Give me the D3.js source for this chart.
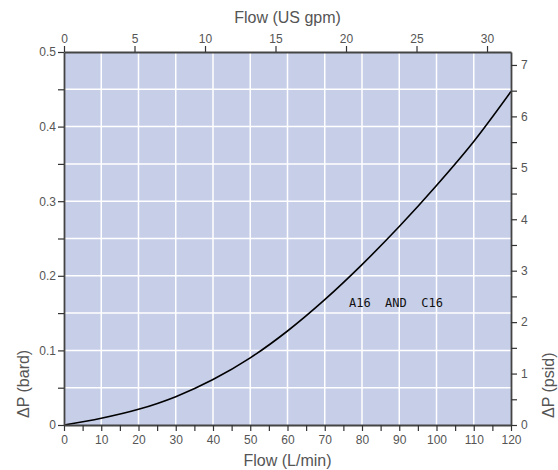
<!DOCTYPE html>
<html>
<head>
<meta charset="utf-8">
<script src="https://cdn.jsdelivr.net/npm/d3@7"></script>
<style>
  body { margin: 0; background: #fff; }
  svg text { font-family: "Liberation Sans", Arial, sans-serif; }
</style>
</head>
<body>
<script>
// curve: pressure drop (bard) vs flow (L/min)
var flowLpm = [0, 10, 20, 30, 40, 50, 60, 70, 80, 90, 100, 110, 120];
var dpBar = [0, 0.009, 0.021, 0.038, 0.061, 0.090, 0.126, 0.168, 0.215, 0.266, 0.321, 0.380, 0.447];
var seriesLabel = "A16  AND  C16";

var bottomTicks = d3.range(0, 121, 5);
var bottomLabels = [0, 10, 20, 30, 40, 50, 60, 70, 80, 90, 100, 110, 120];
var topTicks = [0, 5, 10, 15, 20, 25, 30];
var leftTicks = [0, 0.05, 0.1, 0.15, 0.2, 0.25, 0.3, 0.35, 0.4, 0.45, 0.5];
var leftLabels = ["0", "0.1", "0.2", "0.3", "0.4", "0.5"];
var rightTicks = d3.range(0, 7.01, 0.5);
var rightLabels = [0, 1, 2, 3, 4, 5, 6, 7];

var width = 558, height = 470;
var margin = {top: 52, right: 47, bottom: 45, left: 64};
var LPM_PER_GPM = 3.78541, PSI_PER_BAR = 14.5038;

var svg = d3.select("body").append("svg")
    .attr("width", width).attr("height", height);

var x = d3.scaleLinear().domain([0, 120]).range([margin.left, width - margin.right]);
var y = d3.scaleLinear().domain([0, 0.5]).range([height - margin.bottom, margin.top]);
var xg = d3.scaleLinear().domain([0, 120 / LPM_PER_GPM]).range(x.range());
var yp = d3.scaleLinear().domain([0, 0.5 * PSI_PER_BAR]).range(y.range());

// plot background
svg.append("rect")
    .attr("x", x(0)).attr("y", y(0.5))
    .attr("width", x(120) - x(0)).attr("height", y(0) - y(0.5))
    .attr("fill", "#c7cee8");

// white grid
svg.append("g").selectAll("line").data(bottomLabels.slice(1, -1))
    .enter().append("line")
    .attr("x1", function(d) { return x(d); }).attr("x2", function(d) { return x(d); })
    .attr("y1", y(0)).attr("y2", y(0.5))
    .attr("stroke", "#fff").attr("stroke-width", 1.5);
svg.append("g").selectAll("line").data(leftTicks.slice(1, -1))
    .enter().append("line")
    .attr("y1", function(d) { return y(d); }).attr("y2", function(d) { return y(d); })
    .attr("x1", x(0)).attr("x2", x(120))
    .attr("stroke", "#fff").attr("stroke-width", 1.5);

// the curve
var line = d3.line()
    .x(function(d) { return x(d[0]); })
    .y(function(d) { return y(d[1]); })
    .curve(d3.curveMonotoneX);
svg.append("path")
    .datum(d3.zip(flowLpm, dpBar))
    .attr("d", line)
    .attr("fill", "none").attr("stroke", "#000").attr("stroke-width", 1.6);

svg.append("text")
    .attr("x", 349).attr("y", 307)
    .attr("xml:space", "preserve")
    .style("white-space", "pre")
    .style("font-family", "'DejaVu Sans Mono', monospace")
    .style("font-size", "12px")
    .attr("fill", "#111")
    .text(seriesLabel);

function styleAxis(g) {
    g.select(".domain").attr("stroke", "#444").attr("stroke-width", 1.8);
    g.selectAll(".tick line").attr("stroke", "#333").attr("stroke-width", 1.2);
    g.selectAll(".tick text").attr("fill", "#555").style("font-size", "12px")
        .style("font-family", "'Liberation Sans', Arial, sans-serif");
}

// bottom axis L/min
svg.append("g").attr("transform", "translate(0," + y(0) + ")")
    .call(d3.axisBottom(x).tickValues(bottomTicks).tickSize(6).tickSizeOuter(0).tickPadding(4)
        .tickFormat(function(d) { return bottomLabels.indexOf(d) >= 0 ? d : ""; }))
    .call(styleAxis);

// top axis US gpm
svg.append("g").attr("transform", "translate(0," + y(0.5) + ")")
    .call(d3.axisTop(xg).tickValues(topTicks).tickSize(6).tickSizeOuter(0).tickPadding(3))
    .call(styleAxis);

// left axis bard
svg.append("g").attr("transform", "translate(" + x(0) + ",0)")
    .call(d3.axisLeft(y).tickValues(leftTicks).tickSize(6).tickSizeOuter(0).tickPadding(2)
        .tickFormat(function(d) {
            var s = d3.format(".2~f")(d);
            return leftLabels.indexOf(s) >= 0 ? s : "";
        }))
    .call(styleAxis);

// right axis psid
svg.append("g").attr("transform", "translate(" + x(120) + ",0)")
    .call(d3.axisRight(yp).tickValues(rightTicks).tickSize(6).tickSizeOuter(0).tickPadding(4)
        .tickFormat(function(d) { return rightLabels.indexOf(d) >= 0 ? d : ""; }))
    .call(styleAxis);

// axis titles
function title(t) {
    return t.attr("fill", "#555").style("font-size", "16px");
}
svg.append("text").attr("x", (x(0) + x(120)) / 2).attr("y", 466)
    .attr("text-anchor", "middle").call(title).text("Flow (L/min)");
svg.append("text").attr("x", (x(0) + x(120)) / 2).attr("y", 23)
    .attr("text-anchor", "middle").call(title).text("Flow (US gpm)");
svg.append("text").attr("transform", "translate(29,418) rotate(-90)")
    .attr("text-anchor", "start").call(title).text("ΔP (bard)");
svg.append("text").attr("transform", "translate(554,418) rotate(-90)")
    .attr("text-anchor", "start").call(title).text("ΔP (psid)");
</script>
</body>
</html>
